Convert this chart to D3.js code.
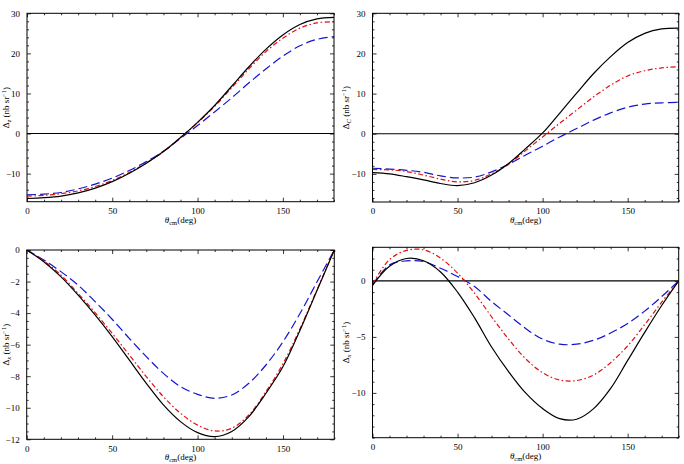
<!DOCTYPE html>
<html>
<head>
<meta charset="utf-8">
<script src="https://cdn.jsdelivr.net/npm/d3@7/dist/d3.min.js"></script>
<style>
  body { margin: 0; background: #fff; }
  svg { display: block; }
  text { font-family: "Liberation Serif", "DejaVu Serif", serif; fill: #000; }
  .domain { display: none; }
  .tick line { stroke: #000; stroke-width: 0.8; }
</style>
</head>
<body>
<svg id="chart" width="684" height="464"></svg>
<script>
// angles (deg)
var theta = [0, 10, 20, 30, 40, 50, 60, 70, 80, 90, 100, 110, 120, 130, 140, 150, 160, 170, 180];

// panel a : Delta_z
var a_black = [-16.2, -16.0, -15.6, -14.8, -13.6, -12.0, -9.9, -7.4, -4.5, -1.0, 2.8, 7.0, 11.8, 16.6, 21.0, 24.6, 27.2, 28.6, 29.0];
var a_red   = [-15.6, -15.4, -15.0, -14.3, -13.2, -11.7, -9.7, -7.3, -4.5, -1.0, 2.7, 6.8, 11.4, 16.1, 20.4, 23.8, 26.3, 27.6, 27.9];
var a_blue  = [-15.3, -15.1, -14.7, -13.8, -12.6, -11.1, -9.2, -7.0, -4.4, -1.2, 2.0, 5.4, 8.9, 12.6, 16.1, 19.3, 21.9, 23.5, 24.2];

// panel b : Delta_C
var b_black = [-9.7, -10.0, -10.7, -11.5, -12.4, -12.9, -12.2, -10.3, -7.4, -3.7, 0.2, 5.1, 10.1, 15.0, 19.2, 22.7, 25.0, 26.1, 26.3];
var b_red   = [-8.9, -9.0, -9.4, -10.3, -11.3, -12.0, -11.6, -10.0, -7.6, -4.2, -0.8, 2.6, 5.9, 9.2, 12.1, 14.4, 15.7, 16.4, 16.7];
var b_blue  = [-8.6, -8.8, -9.1, -9.6, -10.5, -11.0, -10.8, -9.5, -7.6, -5.3, -3.1, -0.8, 1.3, 3.4, 5.2, 6.6, 7.4, 7.7, 7.8];

// panel c : Delta_x
var c_black = [0, -0.74, -1.69, -2.85, -4.12, -5.49, -6.97, -8.45, -9.82, -10.88, -11.58, -11.83, -11.5, -10.56, -9.08, -7.39, -5.07, -2.54, 0];
var c_red   = [0, -0.70, -1.58, -2.75, -3.97, -5.28, -6.65, -8.03, -9.30, -10.35, -11.1, -11.47, -11.3, -10.46, -8.98, -7.2, -4.97, -2.49, 0];
var c_blue  = [0, -0.63, -1.37, -2.22, -3.27, -4.39, -5.60, -6.76, -7.82, -8.66, -9.15, -9.4, -9.19, -8.45, -7.29, -5.81, -4.01, -2.0, 0];

// panel d : Delta_x
var d_black = [-0.4, 1.3, 2.0, 1.8, 0.8, -1.0, -3.3, -5.9, -8.1, -10.0, -11.4, -12.3, -12.35, -11.4, -9.6, -7.1, -4.6, -2.2, 0];
var d_red   = [-0.3, 1.9, 2.72, 2.78, 2.03, 0.69, -1.1, -3.2, -5.2, -6.95, -8.2, -8.85, -8.9, -8.4, -7.3, -5.8, -3.9, -1.9, 0];
var d_blue  = [-0.35, 1.43, 1.79, 1.73, 1.13, 0.39, -0.51, -1.85, -3.04, -4.24, -5.2, -5.65, -5.65, -5.3, -4.65, -3.8, -2.7, -1.4, 0];

var panels = [
    {sub: "z", yDomain: [-17, 30], major: 10, minor: 2,   box: [27, 13.3, 334, 201.7], series: [a_black, a_red, a_blue], zero: true},
    {sub: "C", yDomain: [-17, 30], major: 10, minor: 2,   box: [372.5, 13.3, 678.7, 202], series: [b_black, b_red, b_blue], zero: true},
    {sub: "x", yDomain: [-12, 0],  major: 2,  minor: 0.5, box: [26.7, 250, 334.3, 439.3], series: [c_black, c_red, c_blue], zero: false},
    {sub: "x", yDomain: [-14, 3],  major: 5,  minor: 1,   box: [372.5, 247.3, 678.7, 437.7], series: [d_black, d_red, d_blue], zero: true}
];

var styles = [
    {color: "#000", dash: null},
    {color: "#e01010", dash: "5,2.5,1.5,2.5"},
    {color: "#1515d0", dash: "9,4"}
];

var svg = d3.select("#chart");

function range(a, b, s) {
    var out = [];
    for (var v = a; v <= b + 1e-9; v += s) out.push(Math.round(v * 1000) / 1000);
    return out;
}

panels.forEach(function(p) {
    var x0 = p.box[0], y0 = p.box[1], x1 = p.box[2], y1 = p.box[3];
    var x = d3.scaleLinear().domain([0, 180]).range([x0, x1]);
    var y = d3.scaleLinear().domain(p.yDomain).range([y1, y0]);
    var g = svg.append("g");

    var clipId = "clip" + Math.round(x0) + "_" + Math.round(y0);
    svg.append("clipPath").attr("id", clipId).append("rect")
        .attr("x", x0).attr("y", y0).attr("width", x1 - x0).attr("height", y1 - y0);

    var xMajor = range(0, 150, 50);
    var xMinor = range(0, 180, 10).filter(function(v){ return v % 50 !== 0; });
    var yStart = Math.ceil(p.yDomain[0] / p.major) * p.major;
    var yMajor = range(yStart, p.yDomain[1], p.major);
    var yMinor = range(Math.ceil(p.yDomain[0] / p.minor) * p.minor, p.yDomain[1], p.minor)
        .filter(function(v){ return Math.abs(v / p.major - Math.round(v / p.major)) > 1e-6; });

    // bottom / top
    g.append("g").attr("transform", "translate(0," + y1 + ")")
        .call(d3.axisBottom(x).tickValues(xMajor).tickSizeInner(-4).tickSizeOuter(0).tickPadding(6))
        .selectAll("text").attr("font-size", 9);
    g.append("g").attr("transform", "translate(0," + y1 + ")")
        .call(d3.axisBottom(x).tickValues(xMinor).tickSizeInner(-2).tickSizeOuter(0).tickFormat(""));
    g.append("g").attr("transform", "translate(0," + y0 + ")")
        .call(d3.axisTop(x).tickValues(xMajor).tickSizeInner(-4).tickSizeOuter(0).tickFormat(""));
    g.append("g").attr("transform", "translate(0," + y0 + ")")
        .call(d3.axisTop(x).tickValues(xMinor).tickSizeInner(-2).tickSizeOuter(0).tickFormat(""));

    // left / right
    g.append("g").attr("transform", "translate(" + x0 + ",0)")
        .call(d3.axisLeft(y).tickValues(yMajor).tickSizeInner(-4).tickSizeOuter(0).tickPadding(7)
            .tickFormat(function(d){ return d < 0 ? "\u2212" + (-d) : d; }))
        .selectAll("text").attr("font-size", 9);
    g.append("g").attr("transform", "translate(" + x0 + ",0)")
        .call(d3.axisLeft(y).tickValues(yMinor).tickSizeInner(-2).tickSizeOuter(0).tickFormat(""));
    g.append("g").attr("transform", "translate(" + x1 + ",0)")
        .call(d3.axisRight(y).tickValues(yMajor).tickSizeInner(-4).tickSizeOuter(0).tickFormat(""));
    g.append("g").attr("transform", "translate(" + x1 + ",0)")
        .call(d3.axisRight(y).tickValues(yMinor).tickSizeInner(-2).tickSizeOuter(0).tickFormat(""));

    // zero line
    if (p.zero) {
        g.append("line").attr("x1", x0).attr("x2", x1).attr("y1", y(0)).attr("y2", y(0))
            .attr("stroke", "#000").attr("stroke-width", 1.1);
    }

    // curves
    var line = d3.line().x(function(d, i){ return x(theta[i]); }).y(function(d){ return y(d); })
        .curve(d3.curveCatmullRom.alpha(0.5));
    // draw blue, red, then black on top
    [2, 1, 0].forEach(function(k) {
        g.append("path").datum(p.series[k])
            .attr("clip-path", "url(#" + clipId + ")")
            .attr("d", line)
            .attr("fill", "none")
            .attr("stroke", styles[k].color)
            .attr("stroke-width", 1.2)
            .attr("stroke-dasharray", styles[k].dash);
    });

    // frame
    g.append("rect").attr("x", x0).attr("y", y0).attr("width", x1 - x0).attr("height", y1 - y0)
        .attr("fill", "none").attr("stroke", "#000").attr("stroke-width", 1);

    // x label
    var xl = g.append("text").attr("x", (x0 + x1) / 2).attr("y", y1 + 21)
        .attr("text-anchor", "middle").attr("font-size", 9);
    xl.append("tspan").attr("font-style", "italic").text("\u03b8");
    xl.append("tspan").attr("font-size", 6.5).attr("dy", 2).text("cm");
    xl.append("tspan").attr("dy", -2).text("(deg)");

    // y label (left column sits against the page edge)
    var lx = Math.max(x0 - 24, 9);
    var yl = g.append("text")
        .attr("transform", "translate(" + lx + "," + ((y0 + y1) / 2) + ") rotate(-90)")
        .attr("text-anchor", "middle").attr("font-size", 9);
    yl.append("tspan").text("\u0394");
    yl.append("tspan").attr("font-size", 6.5).attr("dy", 2).attr("font-style", "italic").text(p.sub);
    yl.append("tspan").attr("dy", -2).text(" (nb sr");
    yl.append("tspan").attr("font-size", 6.5).attr("dy", -3).text("\u22121");
    yl.append("tspan").attr("dy", 3).text(")");
});
</script>
</body>
</html>
